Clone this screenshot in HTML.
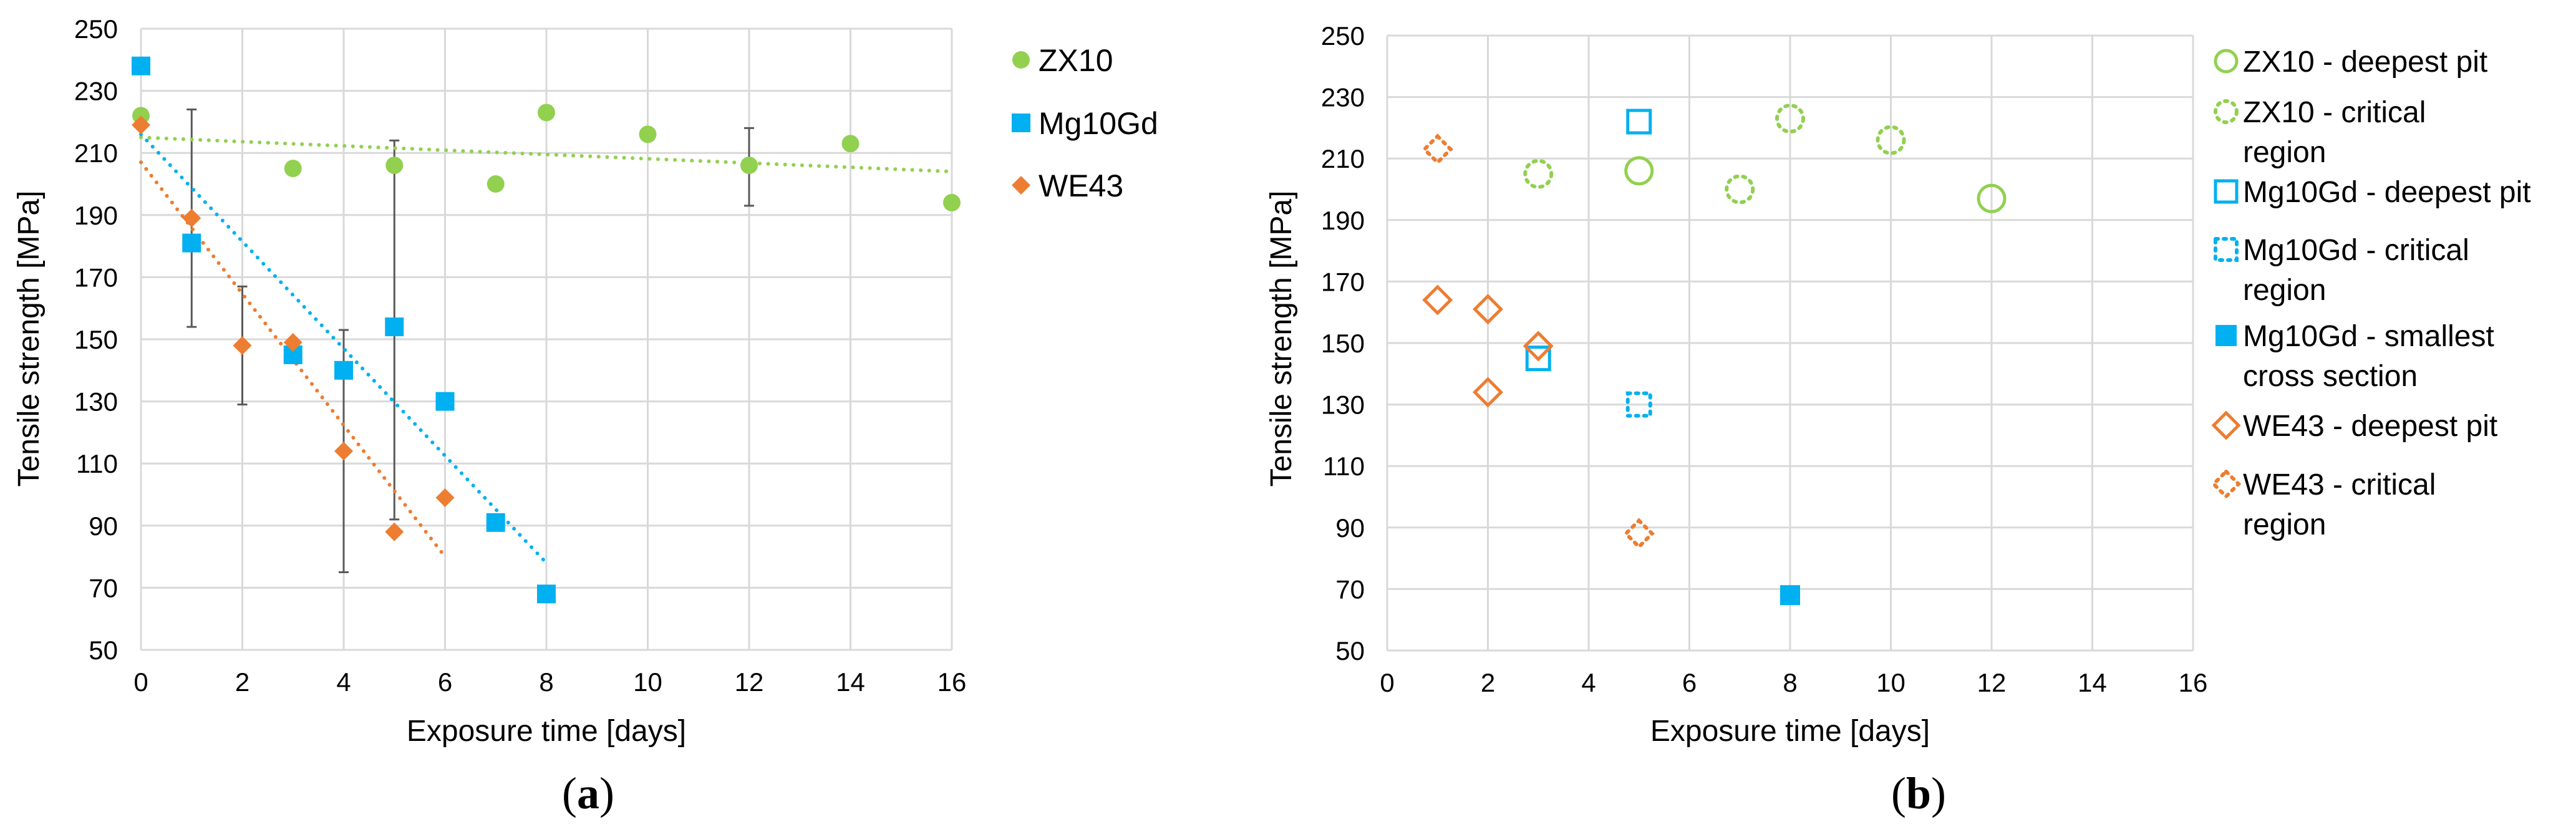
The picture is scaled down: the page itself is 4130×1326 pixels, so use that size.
<!DOCTYPE html>
<html><head><meta charset="utf-8"><style>
html,body{margin:0;padding:0;background:#fff;}
svg{display:block;font-family:"Liberation Sans",Arial,sans-serif;}
</style></head><body>
<svg id="fig" width="4130" height="1326" viewBox="0 0 4130 1326" xmlns="http://www.w3.org/2000/svg">
<g id="pa"></g>
<g id="pb"></g>
<text x="943" y="1296" font-family="Liberation Serif,serif" font-size="72" text-anchor="middle">(<tspan font-weight="bold">a</tspan>)</text>
<text x="3076" y="1296" font-family="Liberation Serif,serif" font-size="72" text-anchor="middle">(<tspan font-weight="bold">b</tspan>)</text>
</svg>
<script>
const NS="http://www.w3.org/2000/svg";
const xTicks=[0,2,4,6,8,10,12,14,16];
const yTicks=[50,70,90,110,130,150,170,190,210,230,250];
// chart a
const zxX=[0,3,5,7,8,10,12,14,16];
const zxY=[222,205,206,200,223,216,206,213,194];
const mgX=[0,1,3,4,5,6,7,8];
const mgY=[238,181,145,140,154,130,91,68];
const weX=[0,1,2,3,4,5,6];
const weY=[219,189,148,149,114,88,99];
const errX=[0,1,2,4,5,12];
const errLo=[220,154,129,75,92,193];
const errHi=[224,224,167,153,214,218];
const trendZX=[[0,215],[16,204]];
const trendMG=[[0,216],[8,78]];
const trendWE=[[0,207],[6,80]];
// chart b
const bZXdX=[5,12], bZXdY=[206,197];
const bZXcX=[3,7,8,10], bZXcY=[205,200,223,216];
const bMGdX=[5,3], bMGdY=[222,145];
const bMGcX=[5], bMGcY=[130];
const bMGsX=[8], bMGsY=[68];
const bWEdX=[1,2,2,3], bWEdY=[164,161,134,149];
const bWEcX=[1,5], bWEcY=[213,88];

const G="#92d050",B="#00b0f0",O="#ed7d31";
function el(p,t,a){const e=document.createElementNS(NS,t);for(const k in a)e.setAttribute(k,a[k]);p.appendChild(e);return e;}
function axes(g,x0,x1,y0,y1,labRight,titleX,ytitleX){
  const sx=v=>x0+(v-0)/16*(x1-x0), sy=v=>y0-(v-50)/200*(y0-y1);
  yTicks.forEach(v=>{const l=el(g,'line',{x1:x0,x2:x1,y1:sy(v),y2:sy(v),stroke:'#d9d9d9','stroke-width':3});
    
    
    const t=el(g,'text',{x:labRight,y:sy(v)+15,'font-size':42,'text-anchor':'end'});t.textContent=v;
    
    });
  xTicks.forEach(v=>{const l=el(g,'line',{x1:sx(v),x2:sx(v),y1:y1,y2:y0,stroke:'#d9d9d9','stroke-width':3});
    
    
    const t=el(g,'text',{x:sx(v),y:y0+66,'font-size':42,'text-anchor':'middle'});t.textContent=v;
    
    });
  const xt=el(g,'text',{x:(x0+x1)/2,y:1188,'font-size':48,'text-anchor':'middle'});xt.textContent='Exposure time [days]';
  
  
  const yt=el(g,'text',{x:0,y:0,'font-size':48,'text-anchor':'middle',transform:`translate(${ytitleX},543) rotate(-90)`});yt.textContent='Tensile strength [MPa]';
  
  
  return [sx,sy];
}
function marker(g,type,cx,cy,color,fill,dotted,s){
  let e;const st={fill:fill?color:'none',stroke:fill?'none':color,'stroke-width':5};
  if(dotted){st['stroke-dasharray']='4 9';st['stroke-linecap']='round';st['stroke-width']=6;}
  if(type==='c')e=el(g,'circle',Object.assign({cx,cy,r:s},st));
  else if(type==='s')e=el(g,'rect',Object.assign({x:cx-s,y:cy-s,width:2*s,height:2*s},st));
  else e=el(g,'polygon',Object.assign({points:`${cx},${cy-s} ${cx+s},${cy} ${cx},${cy+s} ${cx-s},${cy}`},st));
  return e;
}
// ---- chart a
const ga=document.getElementById('pa');
const [ax,ay]=axes(ga,226,1526,1042,46,189,1171,62);
errX.forEach((x,i)=>{
  const l=el(ga,'line',{x1:ax(x),x2:ax(x),y1:ay(errLo[i]),y2:ay(errHi[i]),stroke:'#595959','stroke-width':3});
  
  
  [errLo[i],errHi[i]].forEach(v=>el(ga,'line',{x1:ax(x)-8,x2:ax(x)+8,y1:ay(v),y2:ay(v),stroke:'#595959','stroke-width':3}));
});
[[trendZX,G,'trend-zx10'],[trendMG,B,'trend-mg10gd'],[trendWE,O,'trend-we43']].forEach(([t,c,n])=>{
  const l=el(ga,'line',{x1:ax(t[0][0]),y1:ay(t[0][1]),x2:ax(t[1][0]),y2:ay(t[1][1]),stroke:c,'stroke-width':6,'stroke-dasharray':'0.1 13.5','stroke-linecap':'round'});
  
  
});
zxX.forEach((x,i)=>{const m=marker(ga,'c',ax(x),ay(zxY[i]),G,true,false,14);
  
  });
mgX.forEach((x,i)=>{const m=marker(ga,'s',ax(x),ay(mgY[i]),B,true,false,15);
  
  });
weX.forEach((x,i)=>{const m=marker(ga,'d',ax(x),ay(weY[i]),O,true,false,15);
  
  });
const legA=[['c',G,'ZX10',96],['s',B,'Mg10Gd',197],['d',O,'WE43',297]];
legA.forEach(([t,c,n,y])=>{
  const m=marker(ga,t,1637,y,c,true,false,t==='c'?14:15);
  
  
  const tx=el(ga,'text',{x:1665,y:y+18,'font-size':50});tx.textContent=n;
  
  
});
// ---- chart b
const gb=document.getElementById('pb');
const [bx,by]=axes(gb,2224,3516,1043,57,2188,2870,2070);
function series(X,Y,t,c,fill,dot,s,name){X.forEach((x,i)=>{const m=marker(gb,t,bx(x),by(Y[i]),c,fill,dot,s);
  
  });}
series(bZXdX,bZXdY,'c',G,false,false,21,'point-zx10-deepest-pit');
series(bZXcX,bZXcY,'c',G,false,true,21,'point-zx10-critical-region');
series(bMGdX,bMGdY,'s',B,false,false,18,'point-mg10gd-deepest-pit');
series(bMGcX,bMGcY,'s',B,false,true,18,'point-mg10gd-critical-region');
series(bMGsX,bMGsY,'s',B,true,false,16,'point-mg10gd-smallest-cross-section');
series(bWEdX,bWEdY,'d',O,false,false,21,'point-we43-deepest-pit');
series(bWEcX,bWEcY,'d',O,false,true,21,'point-we43-critical-region');
const legB=[['c',G,false,false,['ZX10 - deepest pit'],98],
 ['c',G,false,true,['ZX10 - critical','region'],179],
 ['s',B,false,false,['Mg10Gd - deepest pit'],307],
 ['s',B,false,true,['Mg10Gd - critical','region'],400],
 ['s',B,true,false,['Mg10Gd - smallest','cross section'],538],
 ['d',O,false,false,['WE43 - deepest pit'],682],
 ['d',O,false,true,['WE43 - critical','region'],776]];
legB.forEach(([t,c,f,d,lines,y])=>{
  const m=marker(gb,t,3569,y,c,f,d,t==='d'?20:(t==='c'?17:17));
  
  
  lines.forEach((ln,k)=>{const tx=el(gb,'text',{x:3596,y:y+17+k*64,'font-size':48});tx.textContent=ln;
    
    });
});
</script>
</body></html>
